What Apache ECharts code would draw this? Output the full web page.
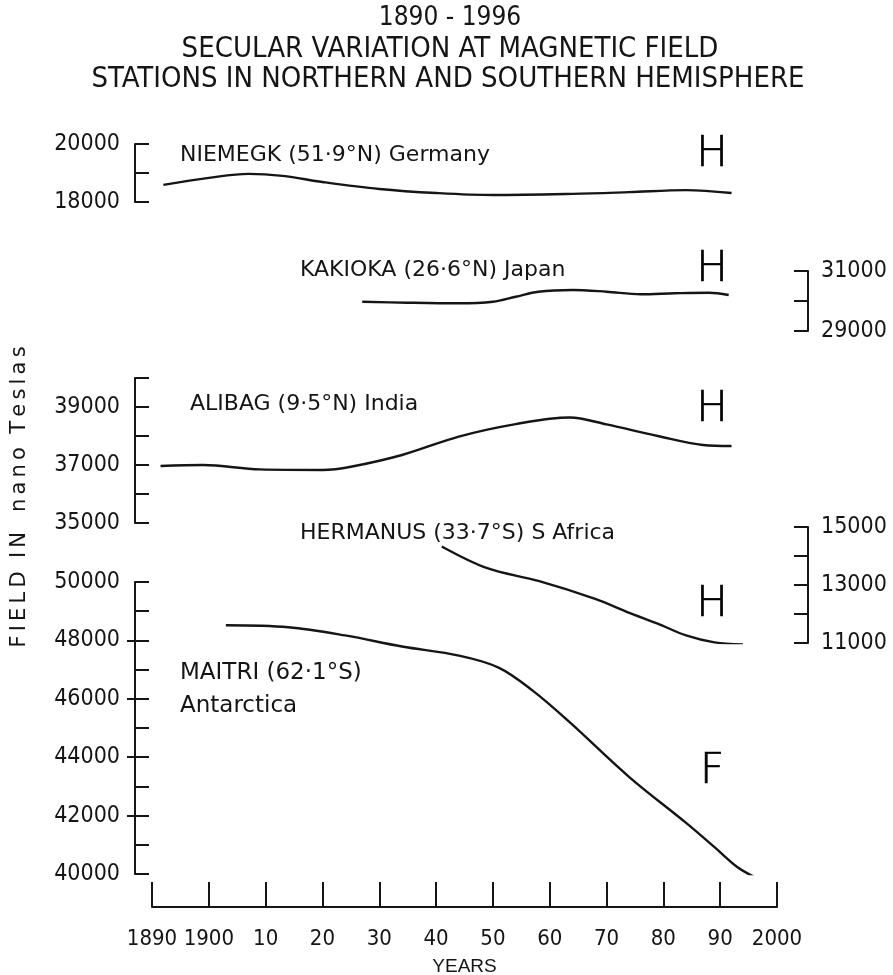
<!DOCTYPE html>
<html>
<head>
<meta charset="utf-8">
<script src="https://cdn.jsdelivr.net/npm/echarts@6/dist/echarts.min.js"></script>
<style>
  html, body { margin: 0; padding: 0; background: #ffffff; }
  #chart { width: 893px; height: 975px; }
</style>
</head>
<body>
<div id="chart"></div>
<script>
// Secular variation of the geomagnetic field at five observatories, 1890-1996.

// Years axis
const yearMin = 1890;
const yearMax = 2000;
const yearTickLabels = ['1890', '1900', '10', '20', '30', '40', '50', '60', '70', '80', '90', '2000'];

// NIEMEGK (51.9 N) Germany - horizontal intensity H, nT
const niemegkYears = [1892, 1900, 1907, 1913, 1920, 1930, 1940, 1950, 1964, 1974, 1984, 1992];
const niemegkH     = [18590, 18830, 18970, 18900, 18690, 18450, 18310, 18240, 18280, 18340, 18410, 18310];
const niemegkTicks = [18000, 20000];

// KAKIOKA (26.6 N) Japan - H, nT
const kakiokaYears = [1927, 1935, 1944, 1950, 1954, 1958, 1964, 1970, 1976, 1982, 1988, 1991.5];
const kakiokaH     = [29977, 29943, 29923, 29977, 30143, 30310, 30367, 30310, 30223, 30257, 30277, 30200];
const kakiokaTicks = [29000, 31000];

// ALIBAG (9.5 N) India - H, nT
const alibagYears = [1891.5, 1899, 1909, 1920, 1925, 1934, 1944, 1954, 1963.5, 1970, 1979, 1987, 1992];
const alibagH     = [36966, 37000, 36850, 36830, 36940, 37345, 37980, 38410, 38640, 38400, 38000, 37690, 37655];
const alibagTicks = [35000, 37000, 39000];

// HERMANUS (33.7 S) S Africa - H, nT
const hermanusYears = [1941, 1949, 1958, 1968, 1974, 1979, 1984, 1989, 1994];
const hermanusH     = [14330, 13580, 13140, 12520, 12040, 11670, 11260, 11020, 10950];
const hermanusTicks = [11000, 13000, 15000];

// MAITRI (62.1 S) Antarctica - total intensity F, nT
const maitriYears = [1903, 1914, 1924, 1934, 1944, 1951, 1957, 1963.5, 1974, 1984, 1989, 1993, 1996];
const maitriF     = [48517, 48450, 48170, 47790, 47480, 47070, 46280, 45200, 43320, 41750, 40920, 40240, 39900];
const maitriTicks = [40000, 42000, 44000, 46000, 48000, 50000];
const maitriOuterTicks = [42000, 44000, 46000, 48000];

const zip = (xs, ys) => xs.map((x, i) => [x, ys[i]]);

const INK = '#151515';
const COND = '"DejaVu Sans Condensed", "Liberation Sans Narrow", sans-serif';
const PLAIN = '"DejaVu Sans", "Noto Sans", sans-serif';
const ARIAL = '"Liberation Sans", Arial, sans-serif';

// panel layout: same horizontal span, own vertical band each
const gridLeft = 152, gridWidth = 625;
const panels = [
  { top: 144, height: 58,  min: 18000, max: 20000, side: 'left',  ticks: niemegkTicks },
  { top: 271, height: 60,  min: 29000, max: 31000, side: 'right', ticks: kakiokaTicks },
  { top: 378, height: 145, min: 35000, max: 40000, side: 'left',  ticks: alibagTicks },
  { top: 527, height: 116, min: 11000, max: 15000, side: 'right', ticks: hermanusTicks },
  { top: 582, height: 292, min: 40000, max: 50000, side: 'left',  ticks: maitriTicks }
];

const grid = panels.map(p => ({
  left: gridLeft, width: gridWidth, top: p.top, height: p.height,
  containLabel: false, outerBoundsMode: 'none'
}));

const xAxis = panels.map((p, i) => {
  const isBottom = i === panels.length - 1;
  return {
    type: 'value', gridIndex: i, min: yearMin, max: yearMax, interval: 10,
    show: isBottom, position: 'bottom', offset: 33,
    splitLine: { show: false },
    axisLine: { show: true, lineStyle: { color: INK, width: 2 } },
    axisTick: { show: true, inside: true, length: 25, lineStyle: { color: INK, width: 2 } },
    axisLabel: {
      show: true, margin: 21, color: INK, fontFamily: COND, fontSize: 22,
      formatter: v => yearTickLabels[Math.round((v - yearMin) / 10)]
    },
    name: isBottom ? 'YEARS' : '', nameLocation: 'middle', nameGap: 50,
    nameTextStyle: { color: INK, fontFamily: ARIAL, fontSize: 19 }
  };
});

const yAxis = panels.map((p, i) => ({
  type: 'value', gridIndex: i, min: p.min, max: p.max, interval: 1000,
  position: p.side, offset: p.side === 'left' ? 17 : 31,
  splitLine: { show: false },
  axisLine: { show: true, lineStyle: { color: INK, width: 2 } },
  axisTick: { show: true, inside: true, length: 14, lineStyle: { color: INK, width: 2 } },
  axisLabel: {
    show: true, customValues: p.ticks, margin: p.side === 'left' ? 15 : 13, color: INK,
    fontFamily: COND, fontSize: 23, formatter: v => String(v)
  }
}));

// labelled MAITRI values also carry a short outward tick
yAxis.push({
  type: 'value', gridIndex: 4, min: 40000, max: 50000, position: 'left', offset: 17,
  splitLine: { show: false },
  axisLine: { show: false },
  axisTick: { show: true, inside: false, length: 8, customValues: maitriOuterTicks,
              lineStyle: { color: INK, width: 2 } },
  axisLabel: { show: false }
});

const lineSeries = (data, i) => ({
  type: 'line', xAxisIndex: i, yAxisIndex: i, data,
  smooth: 0.35, showSymbol: false, silent: true,
  lineStyle: { color: INK, width: 2.4 }
});

const series = [
  lineSeries(zip(niemegkYears, niemegkH), 0),
  lineSeries(zip(kakiokaYears, kakiokaH), 1),
  lineSeries(zip(alibagYears, alibagH), 2),
  lineSeries(zip(hermanusYears, hermanusH), 3),
  lineSeries(zip(maitriYears, maitriF), 4)
];

const txt = (text, x, y, opts) => ({
  type: 'text', x, y, silent: true,
  style: Object.assign({ text, fill: INK, font: '22px ' + PLAIN, textVerticalAlign: 'middle' }, opts || {})
});

// field component letters: tall, thin-stroked capitals
const compLetter = (ch, y) => txt(ch, 712, y, {
  font: '200 42px ' + PLAIN, textAlign: 'center', fill: '#000', stroke: '#000', lineWidth: 0.7
});

const graphic = [
  // heading
  txt('1890 - 1996', 450, 18, { font: '26px ' + COND, textAlign: 'center' }),
  txt('SECULAR VARIATION AT MAGNETIC FIELD', 450, 49, { font: '29px ' + COND, textAlign: 'center' }),
  txt('STATIONS IN NORTHERN AND SOUTHERN HEMISPHERE', 448, 79, { font: '29px ' + COND, textAlign: 'center' }),
  // station names
  txt('NIEMEGK (51·9°N) Germany', 180, 155),
  txt('KAKIOKA (26·6°N) Japan', 300, 270),
  txt('ALIBAG (9·5°N) India', 190, 404),
  txt('HERMANUS (33·7°S) S Africa', 300, 533),
  txt('MAITRI (62·1°S)', 180, 673, { font: '23px ' + PLAIN }),
  txt('Antarctica', 180, 706, { font: '23px ' + PLAIN }),
  // field component of each curve
  compLetter('H', 155),
  compLetter('H', 270),
  compLetter('H', 410),
  compLetter('H', 605),
  compLetter('F', 772),
  // shared vertical axis title
  {
    type: 'text', x: 20, y: 497, rotation: Math.PI / 2, silent: true,
    style: { text: 'F\u2009I\u2009E\u2009L\u2009D  I\u2009N   n\u2009a\u2009n\u2009o  T\u2009e\u2009s\u2009l\u2009a\u2009s',
             fill: INK, font: '21px ' + PLAIN, textAlign: 'center', textVerticalAlign: 'middle' }
  }
];

const chart = echarts.init(document.getElementById('chart'), null, { renderer: 'canvas' });
chart.setOption({
  animation: false,
  backgroundColor: '#ffffff',
  grid, xAxis, yAxis, series, graphic
});
</script>
</body>
</html>
